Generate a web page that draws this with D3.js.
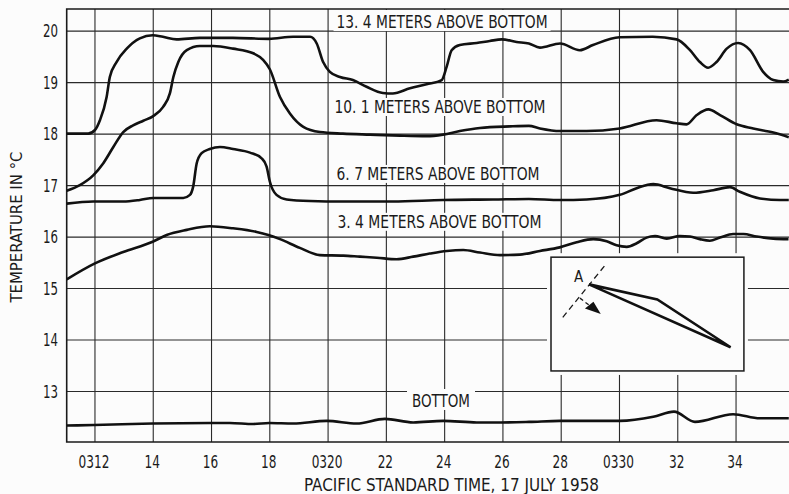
<!DOCTYPE html>
<html>
<head>
<meta charset="utf-8">
<script src="https://cdn.jsdelivr.net/npm/d3@7"></script>
<style>
  body { margin: 0; background: #fcfcfc; }
  svg { display: block; }
  text { font-family: "Liberation Sans Narrow", "DejaVu Sans Condensed", "Arial Narrow", "Liberation Sans", sans-serif; fill: #1a1a1a; }
</style>
</head>
<body>
<svg id="chart" width="789" height="494"></svg>
<script>
// time in minutes after 0300, temperature in deg C
var xTicks = [12, 14, 16, 18, 20, 22, 24, 26, 28, 30, 32, 34];
var xTickLabels = ["0312", "14", "16", "18", "0320", "22", "24", "26", "28", "0330", "32", "34"];
var yTicks = [13, 14, 15, 16, 17, 18, 19, 20];

var depth134 = [[11.03,18.01],[11.77,18.01],[12.0,18.08],[12.17,18.27],[12.40,18.72],[12.51,19.11],[12.74,19.40],[13.09,19.66],[13.54,19.86],[13.98,19.92],[14.33,19.89],[14.80,19.84],[15.6,19.87],[16.73,19.87],[17.97,19.85],[18.8,19.89],[19.38,19.89],[19.61,19.76],[19.83,19.40],[20.06,19.21],[20.41,19.11],[20.85,19.05],[21.32,18.92],[21.88,18.80],[22.22,18.79],[22.81,18.89],[23.38,18.97],[23.90,19.05],[24.07,19.31],[24.24,19.63],[24.52,19.73],[25.10,19.77],[25.55,19.81],[25.96,19.84],[26.47,19.79],[26.89,19.76],[27.27,19.68],[27.96,19.76],[28.64,19.63],[29.09,19.73],[30.0,19.88],[31.14,19.89],[31.96,19.84],[32.42,19.63],[32.76,19.40],[33.04,19.29],[33.33,19.40],[33.68,19.66],[34.07,19.77],[34.48,19.63],[34.93,19.21],[35.28,19.05],[35.62,19.02],[35.81,19.06]];

var depth101 = [[11.03,16.90],[11.48,17.01],[11.94,17.20],[12.28,17.43],[12.63,17.75],[12.97,18.04],[13.31,18.17],[13.66,18.26],[14.0,18.35],[14.34,18.53],[14.57,18.79],[14.69,19.11],[14.86,19.40],[15.15,19.63],[15.60,19.71],[16.06,19.71],[16.74,19.66],[17.43,19.57],[17.77,19.44],[18.0,19.26],[18.35,18.72],[18.69,18.40],[19.15,18.14],[19.72,18.04],[20.51,18.01],[21.44,17.99],[22.47,17.97],[23.38,17.96],[23.94,17.99],[24.52,18.06],[25.21,18.12],[26.24,18.15],[26.89,18.16],[27.27,18.11],[27.96,18.06],[28.87,18.06],[30.01,18.11],[31.27,18.27],[31.96,18.21],[32.30,18.19],[32.65,18.37],[33.05,18.48],[33.45,18.37],[34.02,18.19],[34.59,18.11],[35.28,18.03],[35.81,17.94]];

var depth67 = [[11.03,16.65],[11.94,16.69],[12.97,16.69],[13.54,16.72],[14.0,16.76],[14.46,16.76],[15.03,16.76],[15.26,16.82],[15.37,16.98],[15.49,17.43],[15.66,17.63],[15.94,17.71],[16.29,17.75],[16.74,17.71],[17.32,17.64],[17.72,17.53],[17.89,17.37],[18.0,17.08],[18.23,16.82],[18.58,16.73],[19.38,16.70],[20.51,16.69],[22.22,16.69],[23.94,16.72],[25.66,16.73],[26.89,16.74],[27.96,16.72],[28.87,16.73],[30.01,16.82],[30.59,16.95],[31.16,17.03],[31.73,16.95],[32.53,16.86],[33.22,16.91],[33.79,16.97],[34.13,16.88],[34.82,16.75],[35.51,16.72],[35.81,16.72]];

var depth34 = [[11.03,15.18],[12.0,15.49],[12.97,15.71],[13.98,15.91],[14.46,16.04],[15.15,16.14],[15.94,16.21],[16.74,16.17],[17.55,16.10],[17.95,16.04],[18.35,15.96],[19.03,15.79],[19.72,15.65],[20.52,15.64],[21.09,15.62],[21.67,15.60],[22.35,15.57],[22.92,15.62],[23.49,15.68],[24.07,15.73],[24.64,15.75],[25.21,15.70],[25.90,15.65],[26.58,15.66],[27.27,15.73],[27.95,15.80],[28.53,15.90],[29.10,15.96],[29.56,15.92],[29.90,15.84],[30.25,15.81],[30.59,15.88],[30.93,15.99],[31.22,16.02],[31.62,15.97],[32.07,16.02],[32.42,16.01],[32.76,15.96],[33.10,15.93],[33.45,15.99],[33.90,16.06],[34.25,16.06],[34.71,16.01],[35.28,15.97],[35.80,15.96]];

var depth0 = [[11.03,12.34],[11.97,12.35],[13.98,12.38],[15.95,12.39],[16.63,12.39],[17.43,12.37],[17.98,12.39],[18.80,12.38],[19.95,12.43],[20.98,12.38],[21.95,12.47],[22.92,12.40],[23.95,12.43],[25.10,12.40],[25.93,12.40],[26.90,12.41],[27.96,12.43],[30.01,12.43],[31.16,12.51],[31.87,12.61],[32.59,12.41],[33.90,12.56],[34.82,12.48],[35.81,12.48]];

var seriesLabels = ["13. 4 METERS ABOVE BOTTOM", "10. 1 METERS ABOVE BOTTOM", "6. 7 METERS ABOVE BOTTOM", "3. 4 METERS ABOVE BOTTOM", "BOTTOM"];
// label anchor: [minute at left of text, temperature at baseline]
var labelAnchors = [[20.29, 20.06], [20.22, 18.41], [20.29, 17.11], [20.32, 16.18], [22.88, 12.70]];
var labelWidths = [211, 211, 203, 204, 58];

var svg = d3.select("#chart");
var W = 789, H = 494;
var plotLeft = 66.7, plotTop = 9, plotBottom = 442;

var x = d3.scaleLinear().domain([11.03, 36]).range([plotLeft, plotLeft + 24.97 * 29.14]);
var y = d3.scaleLinear().domain([12.02, 20.43]).range([plotBottom, plotTop]);

svg.append("defs").append("clipPath").attr("id", "plot")
  .append("rect").attr("x", plotLeft).attr("y", plotTop).attr("width", W - plotLeft).attr("height", plotBottom - plotTop);

// grid
var grid = svg.append("g").attr("stroke", "#2a2a2a").attr("stroke-width", 1.1);
grid.selectAll(".vg").data(xTicks).enter().append("line")
  .attr("x1", function(d){ return x(d); }).attr("x2", function(d){ return x(d); })
  .attr("y1", plotTop).attr("y2", plotBottom);
grid.selectAll(".hg").data(yTicks).enter().append("line")
  .attr("x1", plotLeft).attr("x2", W)
  .attr("y1", function(d){ return y(d); }).attr("y2", function(d){ return y(d); });

// frame
svg.append("path")
  .attr("d", "M" + W + "," + plotTop + "H" + plotLeft + "V" + plotBottom + "H" + W)
  .attr("fill", "none").attr("stroke", "#1a1a1a").attr("stroke-width", 1.6);

// label boxes hide grid behind them
var labels = svg.append("g");
seriesLabels.forEach(function(t, i){
  var lx = x(labelAnchors[i][0]), ly = y(labelAnchors[i][1]);
  var pad = i === 4 ? 5 : 3;
  var rtop = i === 0 ? plotTop + 1 : (i === 4 ? ly - 18 : ly - 15);
  labels.append("rect")
    .attr("x", lx - pad).attr("y", rtop)
    .attr("width", labelWidths[i] + 2 * pad).attr("height", ly + 3 - rtop)
    .attr("fill", "#fcfcfc");
  labels.append("text")
    .attr("x", lx).attr("y", ly)
    .attr("font-size", 18)
    .attr("textLength", labelWidths[i]).attr("lengthAdjust", "spacingAndGlyphs")
    .text(t);
});

// curves
var line = d3.line()
  .x(function(d){ return x(d[0]); })
  .y(function(d){ return y(d[1]); })
  .curve(d3.curveMonotoneX);

svg.append("g").attr("clip-path", "url(#plot)")
  .selectAll("path").data([depth134, depth101, depth67, depth34, depth0]).enter().append("path")
  .attr("d", line)
  .attr("fill", "none").attr("stroke", "#111").attr("stroke-width", 2.6)
  .attr("stroke-linejoin", "round");

// tick labels
svg.append("g").selectAll("text").data(xTicks).enter().append("text")
  .attr("x", function(d){ return x(d) - 1; }).attr("y", 468)
  .attr("text-anchor", "middle").attr("font-size", 17)
  .attr("textLength", function(d, i){ return xTickLabels[i].length * 7.7; })
  .attr("lengthAdjust", "spacingAndGlyphs")
  .text(function(d, i){ return xTickLabels[i]; });

svg.append("g").selectAll("text").data(yTicks).enter().append("text")
  .attr("x", 58).attr("y", function(d){ return y(d); }).attr("dy", "0.36em")
  .attr("text-anchor", "end").attr("font-size", 17)
  .attr("textLength", 15).attr("lengthAdjust", "spacingAndGlyphs")
  .text(function(d){ return d; });

// axis titles
svg.append("text")
  .attr("transform", "translate(22,227) rotate(-90)")
  .attr("text-anchor", "middle").attr("font-size", 15)
  .attr("textLength", 151).attr("lengthAdjust", "spacingAndGlyphs")
  .text("TEMPERATURE IN °C");

svg.append("text")
  .attr("x", 451.5).attr("y", 491)
  .attr("text-anchor", "middle").attr("font-size", 18)
  .attr("textLength", 295).attr("lengthAdjust", "spacingAndGlyphs")
  .text("PACIFIC STANDARD TIME, 17 JULY 1958");

// inset: sketch of the mooring drift, local 0..1 coordinates inside the box
var insetBox = [[27.65, 15.61], [34.27, 13.40]];
var bx0 = x(insetBox[0][0]), by0 = y(insetBox[0][1]);
var bx1 = x(insetBox[1][0]), by1 = y(insetBox[1][1]);
var u = d3.scaleLinear().range([bx0, bx1]);
var v = d3.scaleLinear().range([by0, by1]);

var inset = svg.append("g");
inset.append("rect")
  .attr("x", bx0 - 4).attr("y", by0 - 4)
  .attr("width", bx1 - bx0 + 8).attr("height", by1 - by0 + 8)
  .attr("fill", "#fcfcfc");
inset.append("rect")
  .attr("x", bx0).attr("y", by0)
  .attr("width", bx1 - bx0).attr("height", by1 - by0)
  .attr("fill", "#fcfcfc").attr("stroke", "#1a1a1a").attr("stroke-width", 1.5);

var dashLine = [[0.061, 0.529], [0.285, 0.061]];
var arrowShaft = [[0.150, 0.360], [0.215, 0.445]];
var arrowHead = [[0.176, 0.451], [0.258, 0.500], [0.220, 0.392]];
var track = [[0.197, 0.239], [0.551, 0.371], [0.931, 0.792], [0.197, 0.239]];

var pl = d3.line().x(function(d){ return u(d[0]); }).y(function(d){ return v(d[1]); });

inset.append("path").attr("d", pl(dashLine))
  .attr("fill", "none").attr("stroke", "#1a1a1a").attr("stroke-width", 1.3)
  .attr("stroke-dasharray", "6,4");
inset.append("path").attr("d", pl(arrowShaft))
  .attr("fill", "none").attr("stroke", "#1a1a1a").attr("stroke-width", 1.3)
  .attr("stroke-dasharray", "4,3");
inset.append("path").attr("d", pl(arrowHead) + "Z").attr("fill", "#111");
inset.append("path").attr("d", pl(track))
  .attr("fill", "none").attr("stroke", "#111").attr("stroke-width", 2.6)
  .attr("stroke-linejoin", "miter");
inset.append("text")
  .attr("x", u(0.119)).attr("y", v(0.219))
  .attr("font-size", 15).text("A");
</script>
</body>
</html>
